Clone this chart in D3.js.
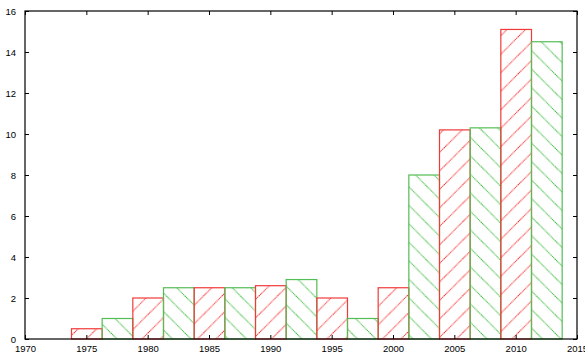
<!DOCTYPE html>
<html><head><meta charset="utf-8">
<script src="https://cdn.jsdelivr.net/npm/d3@7"></script>
<style>
html,body{margin:0;padding:0;background:#fff;}
svg{display:block;}
text{font-family:"Liberation Sans",Arial,Helvetica,sans-serif;font-size:9.5px;fill:#000;}
</style></head>
<body>
<script>
// Data
const redYears   = [1975, 1980, 1985, 1990, 1995, 2000, 2005, 2010];
const redValues  = [0.5, 2.0, 2.5, 2.6, 2.0, 2.5, 10.2, 15.1];
const greenYears = [1977.5, 1982.5, 1987.5, 1992.5, 1997.5, 2002.5, 2007.5, 2012.5];
const greenValues= [1.0, 2.5, 2.5, 2.9, 1.0, 8.0, 10.3, 14.5];
const barWidthYears = 2.5;
const xTickValues = [1970, 1975, 1980, 1985, 1990, 1995, 2000, 2005, 2010, 2015];
const yTickValues = [0, 2, 4, 6, 8, 10, 12, 14, 16];

const W = 585, H = 356;
const m = {left: 25, right: 8, top: 11, bottom: 17};
const svg = d3.select("body").append("svg").attr("width", W).attr("height", H);

const x = d3.scaleLinear().domain([1970, 2015]).range([m.left, W - m.right]);
const y = d3.scaleLinear().domain([0, 16]).range([H - m.bottom, m.top]);

const RED = "#f52525", GREEN = "#2fb52f";
const RED_EDGE = "#f03a3a", GREEN_EDGE = "#55bd55";
const defs = svg.append("defs");
function hatch(id, color, dir) {
  const s = 18.5;
  const p = defs.append("pattern").attr("id", id).attr("patternUnits", "userSpaceOnUse")
    .attr("width", s).attr("height", s);
  const d = dir > 0
    ? `M${-s},${s} L${s},${-s} M0,${s} L${s},0 M0,${2*s} L${2*s},0`
    : `M0,0 L${s},${s} M${-s},0 L${s},${2*s} M0,${-s} L${2*s},${s}`;
  p.append("path").attr("d", d)
    .attr("stroke", color).attr("stroke-width", 1).attr("stroke-dasharray", "1.1,0.6");
}
hatch("hr", RED, 1);
hatch("hg", GREEN, -1);

const red = redYears.map((yr, i) => ({yr, v: redValues[i], c: RED_EDGE, f: "url(#hr)"}));
const green = greenYears.map((yr, i) => ({yr, v: greenValues[i], c: GREEN_EDGE, f: "url(#hg)"}));
const bars = red.concat(green).sort((a, b) => a.yr - b.yr);

svg.append("g").selectAll("rect").data(bars).join("rect")
  .attr("x", d => x(d.yr - barWidthYears / 2) + 0.5)
  .attr("y", d => y(d.v))
  .attr("width", d => x(d.yr + barWidthYears / 2) - x(d.yr - barWidthYears / 2))
  .attr("height", d => y(0) - y(d.v))
  .attr("fill", d => d.f)
  .attr("stroke", d => d.c)
  .attr("stroke-width", 1.2);

// frame
const x0 = x(1970), x1 = x(2015), y0 = y(0), y1 = y(16);
svg.append("rect").attr("x", x0).attr("y", y1).attr("width", x1 - x0).attr("height", y0 - y1)
  .attr("fill", "none").attr("stroke", "#000").attr("stroke-width", 1.2);

// axes
const ax = svg.append("g");
ax.append("g").attr("transform", `translate(0,${y0})`)
  .call(d3.axisBottom(x).tickValues(xTickValues).tickFormat(d3.format("d")).tickSizeInner(-4).tickSizeOuter(0).tickPadding(6))
  .call(g => g.select(".domain").remove());
ax.append("g").attr("transform", `translate(0,${y1})`)
  .call(d3.axisTop(x).tickValues(xTickValues).tickFormat("").tickSizeInner(-4).tickSizeOuter(0))
  .call(g => g.select(".domain").remove());
ax.append("g").attr("transform", `translate(${x0},0)`)
  .call(d3.axisLeft(y).tickValues(yTickValues).tickFormat(d3.format("d")).tickSizeInner(-4).tickSizeOuter(0).tickPadding(9))
  .call(g => g.select(".domain").remove());
ax.append("g").attr("transform", `translate(${x1},0)`)
  .call(d3.axisRight(y).tickValues(yTickValues).tickFormat("").tickSizeInner(-4).tickSizeOuter(0))
  .call(g => g.select(".domain").remove());
ax.selectAll("text").attr("font-size", null).attr("font-family", null).attr("fill", "#000");
ax.selectAll("line").attr("stroke", "#000");
</script>
</body></html>
